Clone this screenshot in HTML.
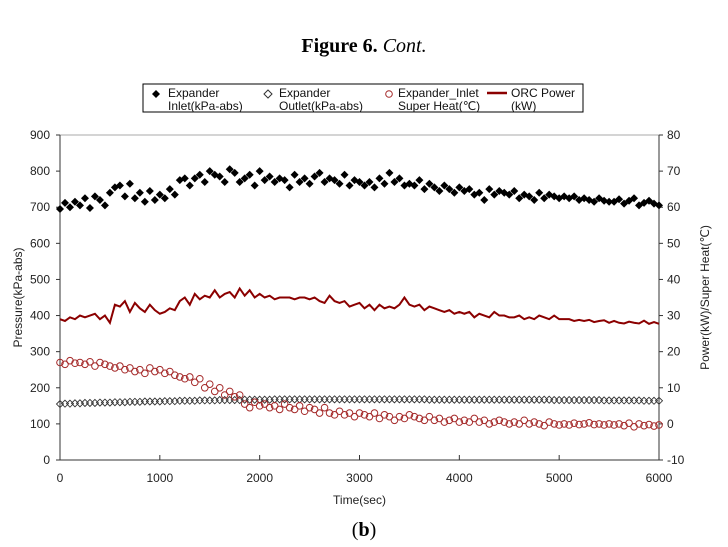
<!DOCTYPE html>
<html><head><meta charset="utf-8"><style>
body{margin:0;background:#fff;width:728px;height:547px;overflow:hidden}
svg{display:block;font-family:"Liberation Sans","DejaVu Sans",sans-serif}
</style></head><body>
<svg id="chart" width="728" height="547">
<text x="364" y="52" text-anchor="middle" font-family="Liberation Serif,serif" font-size="20"><tspan font-weight="bold">Figure 6.</tspan> <tspan font-style="italic">Cont.</tspan></text>
<text x="364" y="536" text-anchor="middle" font-family="Liberation Serif,serif" font-size="20">(<tspan font-weight="bold">b</tspan>)</text>
<g id="legend">
<rect x="143" y="84" width="440" height="28" fill="#fff" stroke="#000" stroke-width="1"/>
</g>
<g id="plot"></g>
</svg>
<script>
const timeStep = 50;
const inletKPa = [695,712,700,715,705,725,698,730,720,705,740,
755,760,730,765,725,740,715,745,720,735,
725,750,735,775,780,760,780,790,770,800,
790,785,770,805,795,770,780,790,760,800,
775,785,770,780,775,755,790,770,780,765,
785,795,770,780,775,765,790,760,775,770,
760,770,755,780,765,795,770,780,760,765,
760,775,750,765,755,745,760,750,740,755,
745,750,735,740,720,750,735,745,740,735,
745,725,735,730,720,740,725,735,730,725,
730,725,730,720,725,720,715,725,718,715,
715,722,710,718,725,705,712,718,710,705];
const outletKPa = [155,156,156,157,157,158,158,158,159,159,159,
160,160,160,161,161,161,162,162,162,162,
163,163,163,164,164,164,164,165,165,165,
165,166,166,166,166,166,167,167,167,167,
167,167,168,168,168,168,168,168,168,168,
168,168,168,168,168,168,168,168,168,168,
168,168,168,168,168,168,168,168,168,168,
168,168,168,167,167,167,167,167,167,167,
167,167,167,167,167,167,167,167,167,167,
167,167,167,167,167,167,167,167,166,166,
166,166,166,166,166,166,166,166,165,165,
165,165,165,165,165,165,164,164,164,164];
const powerKW = [29,28.5,29.5,29,30,29.5,30,30.5,29,30,28,
33,32.5,34,31,33.5,32,31,33,31.5,30.5,
31,32,31.5,34,35,33,36,34.5,35.5,35,
37,35,36,36.5,35,37.5,35.5,37,35,36,
35,35.5,34.5,35,35,35,34.5,35,35,34.5,
35,34,33.5,35.5,34,33.5,34,32.5,33,33.5,
32,33,31.5,33,32,32.5,32,33,35,33,
32.5,33,31.5,32.5,32,31.5,31,31.5,30.5,31,
30.5,31,29.5,30.5,30,29.5,31,30,30,29.5,
29.5,30,29,29.5,29,30,29.5,29,30,29,
29,29,28.5,28.8,28.5,28.8,28.2,28.5,28.7,28,
28.5,28,27.8,28.3,28,27.8,28.6,27.7,28.2,27.7];
const superHeatC = [17,16.5,17.5,16.8,17,16.5,17.2,16,17,16.5,16,
15.5,16,15,15.5,14.5,15,14,15.5,14.5,15,
14,14.5,13.5,13,12.5,13,11.5,12.5,10,11,
9,10,8,9,7.5,8,5.5,4.5,6,5,
5.5,4.5,5,4,5.5,4.5,4,5,3.5,4.5,
4,3,4.5,3,2.5,3.5,2.5,3,2,3,
2.5,2,3,1.5,2.5,2,1,2,1.5,2.5,
2,1.5,1,2,1,1.5,0.5,1,1.5,0.5,
1,0.5,1.5,0.5,1,0,0.5,1,0.5,0,
0.5,0,1,0,0.5,0,-0.5,0.5,0,-0.3,
0,-0.3,0.2,-0.2,0,0.3,-0.2,0,-0.3,0,
-0.3,0,-0.5,0.2,-0.8,0,-0.5,-0.2,-0.6,-0.3];
const xTicks = [0,1000,2000,3000,4000,5000,6000];
const yLeftTicks = [0,100,200,300,400,500,600,700,800,900];
const yRightTicks = [-10,0,10,20,30,40,50,60,70,80];

const L=60,R=659,T=135,B=460;
const xs=t=>L+(t/6000)*(R-L);
const yl=v=>B-(v/900)*(B-T);
const yr=v=>B-((v+10)/90)*(B-T);
const NS='http://www.w3.org/2000/svg';
const plot=document.getElementById('plot');
function mk(tag,attrs,parent){const e=document.createElementNS(NS,tag);for(const k in attrs)e.setAttribute(k,attrs[k]);(parent||plot).appendChild(e);return e;}

// axes frame
let f=mk('path',{d:`M${L},${T}H${R}V${B}`,fill:'none',stroke:'#aaa','stroke-width':1});


let ax=mk('path',{d:`M${L},${T}V${B}H${R}`,fill:'none',stroke:'#333','stroke-width':1});


let ra=mk('line',{x1:R,y1:T,x2:R,y2:B,stroke:'#333'});



xTicks.forEach(t=>{
 const x=xs(t);
 mk('line',{x1:x,y1:B,x2:x,y2:B-5,stroke:'#333'});
 const tx=mk('text',{x:x,y:B+22,'text-anchor':'middle','font-size':12,fill:'#222'});tx.textContent=t;
 
 
});
yLeftTicks.forEach(v=>{
 const y=yl(v);
 mk('line',{x1:L,y1:y,x2:L-4,y2:y,stroke:'#333'});
 const tx=mk('text',{x:L-10,y:y+4,'text-anchor':'end','font-size':12,fill:'#222'});tx.textContent=v;
 
 
});
yRightTicks.forEach(v=>{
 const y=yr(v);
 mk('line',{x1:R,y1:y,x2:R+4,y2:y,stroke:'#333'});
 const tx=mk('text',{x:R+8,y:y+4,'text-anchor':'start','font-size':12,fill:'#222'});tx.textContent=v;
 
 
});
let xt=mk('text',{x:(L+R)/2,y:B+44,'text-anchor':'middle','font-size':12,fill:'#222'});xt.textContent='Time(sec)';


let ylt=mk('text',{transform:`translate(22,${(T+B)/2}) rotate(-90)`,'text-anchor':'middle','font-size':12,fill:'#222'});ylt.textContent='Pressure(kPa-abs)';


let yrt=mk('text',{transform:`translate(709,${(T+B)/2}) rotate(-90)`,'text-anchor':'middle','font-size':12,fill:'#222'});yrt.textContent='Power(kW)/Super Heat(℃)';



// outlet (open diamonds)
outletKPa.forEach((v,i)=>{const x=xs(i*timeStep),y=yl(v);
 const d=mk('path',{d:`M${x},${y-3.5}L${x+3.5},${y}L${x},${y+3.5}L${x-3.5},${y}Z`,fill:'none',stroke:'#333','stroke-width':0.9});
 
 
});
// superheat circles
superHeatC.forEach((v,i)=>{const c=mk('circle',{cx:xs(i*timeStep),cy:yr(v),r:3.3,fill:'none',stroke:'#a52a2a','stroke-width':1});
 
 
});
// power line
let pl=mk('polyline',{points:powerKW.map((v,i)=>xs(i*timeStep)+','+yr(v)).join(' '),fill:'none',stroke:'#8b0000','stroke-width':2});


// inlet filled diamonds
inletKPa.forEach((v,i)=>{const x=xs(i*timeStep),y=yl(v);
 const d=mk('path',{d:`M${x},${y-4}L${x+4},${y}L${x},${y+4}L${x-4},${y}Z`,fill:'#000'});
 
 
});

// legend
const lg=document.getElementById('legend');
function lt(x,y,s){const t=mk('text',{x:x,y:y,'font-size':12,fill:'#111'},lg);t.textContent=s;return t;}
mk('path',{d:'M156,90L160,94L156,98L152,94Z',fill:'#000'},lg);
let e1=lt(168,97,'Expander');
lt(168,110,'Inlet(kPa-abs)');
mk('path',{d:'M268,90L272,94L268,98L264,94Z',fill:'none',stroke:'#333'},lg);
let e2=lt(279,97,'Expander');
lt(279,110,'Outlet(kPa-abs)');
mk('circle',{cx:389,cy:94,r:3.3,fill:'none',stroke:'#a52a2a'},lg);
let e3=lt(398,97,'Expander_Inlet');
lt(398,110,'Super Heat(℃)');
mk('line',{x1:487,y1:93,x2:507,y2:93,stroke:'#8b0000','stroke-width':2.5},lg);
let e4=lt(511,97,'ORC Power');
lt(511,110,'(kW)');
</script>
</body></html>
